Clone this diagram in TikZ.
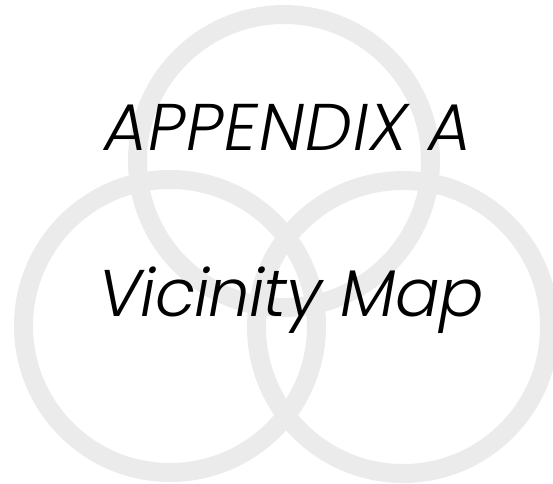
\documentclass[tikz,border=0pt]{standalone}
\usepackage{fontspec}
\newfontfamily\titlefont{Poppins}[ItalicFont={Poppins Light Italic}]
\newfontfamily\titlefontwide{Poppins}[ItalicFont={Poppins Light Italic},ItalicFeatures={LetterSpace=1.7}]
\newfontfamily\titlefontnarrow{Poppins}[ItalicFont={Poppins Light Italic},ItalicFeatures={LetterSpace=-1.4}]
\definecolor{ringgray}{RGB}{235,235,235}
\begin{document}
\begin{tikzpicture}[x=1pt,y=-1pt,
  ring/.style={draw=ringgray,line width=19pt},
  title/.style={font=\itshape\fontsize{66}{70}\selectfont, text=black, inner sep=0pt}]
\useasboundingbox (0,0) rectangle (553,483);
\begin{scope}
\clip (0,0) rectangle (553,483);
\draw[ring] (284,161) circle (146.5pt);
\draw[ring] (170,326) circle (146.5pt);
\draw[ring] (403,327) circle (146.5pt);
\end{scope}
\node[title, anchor=base] (t1) at (288,150) {\titlefontwide\itshape APPENDIX A};
\node[title, anchor=base] (t2) at (291,316) {\titlefontnarrow\itshape Vicinity Map};
\end{tikzpicture}
\end{document}
